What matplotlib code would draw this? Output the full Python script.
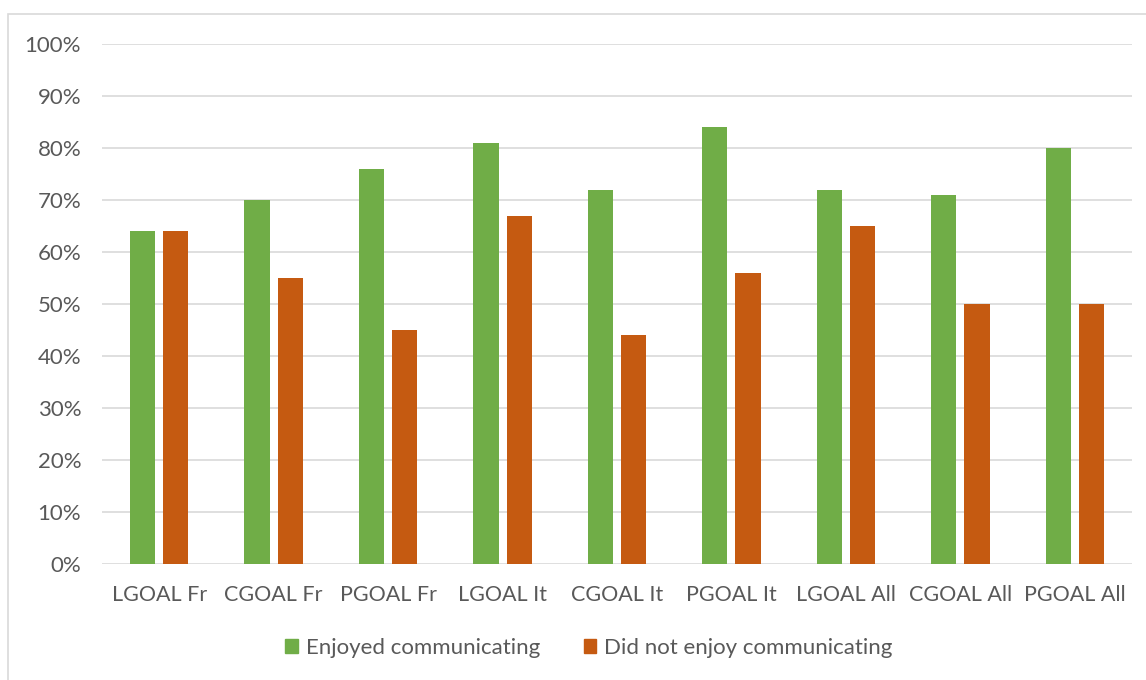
import matplotlib
matplotlib.use("Agg")
import matplotlib.pyplot as plt
import numpy as np
from matplotlib.patches import Rectangle, Patch

categories = ["LGOAL Fr", "CGOAL Fr", "PGOAL Fr", "LGOAL It", "CGOAL It",
              "PGOAL It", "LGOAL All", "CGOAL All", "PGOAL All"]
enjoyed = [64, 70, 76, 81, 72, 84, 72, 71, 80]
not_enjoyed = [64, 55, 45, 67, 44, 56, 65, 50, 50]
series_names = ["Enjoyed communicating", "Did not enjoy communicating"]
colors = ["#70AD47", "#C55A11"]
yticks = [0, 10, 20, 30, 40, 50, 60, 70, 80, 90, 100]

plt.rcParams['font.family'] = ['Lato', 'DejaVu Sans']
text_color = "#595959"

fig = plt.figure(figsize=(11.46, 6.8), dpi=100)
fig.patches.append(Rectangle((8/1146, -0.01), 1.1, 1 - 14/680 + 0.01,
                             transform=fig.transFigure, fill=False,
                             edgecolor="#D9D9D9", linewidth=1.2))
ax = fig.add_axes([102/1146, 1 - 564/680, (1132-102)/1146, (564-44)/680])

x = np.arange(len(categories))
w = 0.22
gap = 0.035
ax.bar(x - w/2 - gap, enjoyed, width=w, color=colors[0], zorder=3)
ax.bar(x + w/2 + gap, not_enjoyed, width=w, color=colors[1], zorder=3)

ax.set_xlim(-0.5, len(categories) - 0.5)
ax.set_ylim(0, 100)
ax.set_yticks(yticks)
ax.set_yticklabels([f"{t}%" for t in yticks])
ax.set_xticks(x)
ax.set_xticklabels(categories)
ax.tick_params(axis='both', length=0, labelcolor=text_color)
ax.tick_params(axis='y', pad=15, labelsize=16)
ax.tick_params(axis='x', pad=15, labelsize=15.5)
ax.grid(axis='y', color="#D9D9D9", linewidth=1.2, zorder=0)
for s in ax.spines.values():
    s.set_visible(False)

handles = [Patch(color=c) for c in colors]
fig.legend(handles, series_names, loc='center', bbox_to_anchor=(0.514, 1 - 648/680),
           ncol=2, frameon=False, fontsize=16, labelcolor=text_color,
           handlelength=0.55, handleheight=0.55, handletextpad=0.36, columnspacing=2.0)

fig.savefig("out.png", dpi=100)
